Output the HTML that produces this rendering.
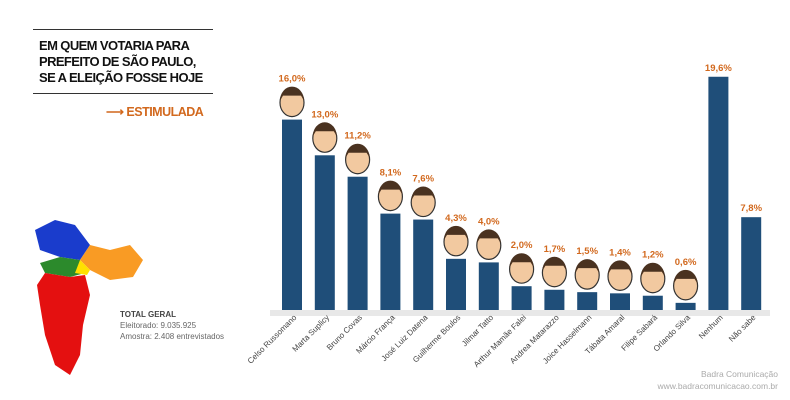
<!DOCTYPE html>
<html><head><meta charset="utf-8"><style>
body{margin:0;width:790px;height:400px;background:#fff;overflow:hidden;font-family:"Liberation Sans",sans-serif;position:relative}
.t{position:absolute;left:39px;top:38px;font-size:13px;font-weight:bold;line-height:16px;color:#111;letter-spacing:-0.6px}
.hl{position:absolute;left:33px;width:180px;height:1px;background:#333}
</style></head><body>
<div class="hl" style="top:29px"></div>
<div class="t">EM QUEM VOTARIA PARA<br>PREFEITO DE SÃO PAULO,<br>SE A ELEIÇÃO FOSSE HOJE</div>
<div class="hl" style="top:93px"></div>
<div style="position:absolute;left:106px;top:104px;font-size:12.5px;font-weight:bold;color:#d2691e;letter-spacing:-0.5px">⟶ ESTIMULADA</div>
<svg width="140" height="170" style="position:absolute;left:25px;top:215px">
<polygon points="10,15 30,5 50,10 65,30 55,45 35,42 15,35" fill="#1a3ccc"/>
<polygon points="55,45 65,30 85,35 105,30 118,45 108,62 85,65 65,55" fill="#f99b24"/>
<polygon points="35,42 55,45 60,58 45,62 20,58 15,48" fill="#2c8a2c"/>
<polygon points="55,45 65,55 62,60 50,58" fill="#ffe000"/>
<polygon points="20,58 45,62 60,60 65,80 58,110 55,140 45,160 30,150 20,120 15,90 12,70" fill="#e41010"/>
</svg>
<div style="position:absolute;left:120px;top:309px;font-size:8px;color:#666;line-height:11px"><b style="color:#444">TOTAL GERAL</b><br>Eleitorado: 9.035.925<br>Amostra: 2.408 entrevistados</div>
<div style="position:absolute;right:12px;top:368px;font-size:8.5px;color:#aaa;text-align:right;line-height:12px">Badra Comunicação<br>www.badracomunicacao.com.br</div>
<svg id="chart" width="790" height="400" style="position:absolute;left:0;top:0"></svg>
<script>
const categories=["Celso Russomano","Marta Suplicy","Bruno Covas","Márcio França","José Luiz Datena","Guilherme Boulos","Jilmar Tatto","Arthur Mamãe Falei","Andrea Matarazzo","Joice Hasselmann","Tábata Amaral","Filipe Sabará","Orlando Silva","Nenhum","Não sabe"];
const values=[16.0,13.0,11.2,8.1,7.6,4.3,4.0,2.0,1.7,1.5,1.4,1.2,0.6,19.6,7.8];
const labels=["16,0%","13,0%","11,2%","8,1%","7,6%","4,3%","4,0%","2,0%","1,7%","1,5%","1,4%","1,2%","0,6%","19,6%","7,8%"];
const hasFace=[1,1,1,1,1,1,1,1,1,1,1,1,1,0,0];
const ns="http://www.w3.org/2000/svg",svg=document.getElementById('chart');
const base=310,scale=11.9,x0=292,step=32.8,bw=20;
const y=v=>base-v*scale, x=i=>x0+i*step;
function mk(t,a){const e=document.createElementNS(ns,t);for(const k in a)e.setAttribute(k,a[k]);svg.appendChild(e);return e;}
const bg=mk('rect',{x:270,y:base,width:500,height:6,fill:'#e8e8e8'});


categories.forEach((c,i)=>{
 const cx=x(i),top=y(values[i]);
 const r=mk('rect',{x:cx-bw/2,y:top,width:bw,height:base-top,fill:'#1f4e79'});
 
 
 let ly=top-6;
 if(hasFace[i]){
  const f=mk('ellipse',{cx:cx,cy:top-17,rx:12,ry:14,fill:'#f2c9a0',stroke:'#333','stroke-width':1.2});
  
  
  const h=mk('path',{d:`M${cx-12},${top-19} A12,14 0 0 1 ${cx+12},${top-19} L${cx+9},${top-24} L${cx-9},${top-24}Z`,fill:'#4a3220'});
  
  
  ly=top-38;
 }
 const t=mk('text',{x:cx,y:ly,'text-anchor':'middle','font-size':9.5,'font-weight':'bold',fill:'#d2691e'});
 t.textContent=labels[i];
 
 
 const l=mk('text',{x:cx+5,y:318,'text-anchor':'end','font-size':8,fill:'#444',transform:`rotate(-45 ${cx+5} 318)`});
 l.textContent=c;
 
 
});
</script>
</body></html>
